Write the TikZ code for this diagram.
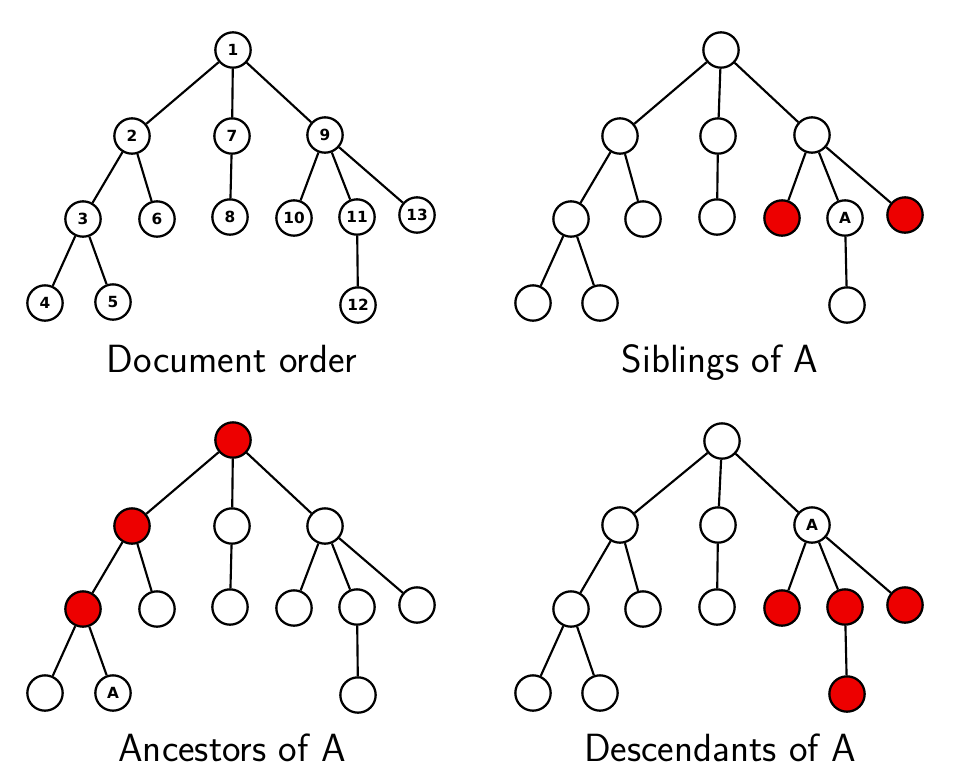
\documentclass[tikz,border=0pt]{standalone}
\usepackage{fontspec}
\newfontfamily\nodefont{DejaVu Sans}
\definecolor{markred}{RGB}{237,0,0}
\tikzset{
  vertex/.style={circle, draw, line width=1.7pt, fill=white, minimum size=26.5pt, inner sep=0pt,
    font=\nodefont\bfseries\fontsize{11.5}{13}\selectfont},
  marked/.style={vertex, fill=markred},
  edge/.style={line width=1.6pt},
  caption/.style={anchor=base, inner sep=0pt, font=\sffamily\fontsize{29.5}{35}\selectfont}
}

\begin{document}
\begin{tikzpicture}[x=0.75pt,y=0.75pt,yscale=-1,xscale=1]
            \useasboundingbox (0,0) rectangle (963,782);

            % Document order
            \begin{scope}
            \node[vertex] (d1) at (233,50) {1};
            \node[vertex] (d2) at (132,136) {2};
            \node[vertex] (d7) at (232,136) {7};
            \node[vertex] (d9) at (325,135) {9};
            \node[vertex] (d3) at (83,219) {3};
            \node[vertex] (d6) at (157,219) {6};
            \node[vertex] (d8) at (230,217) {8};
            \node[vertex] (d10) at (294,218) {10};
            \node[vertex] (d11) at (357,217) {11};
            \node[vertex] (d13) at (417,215) {13};
            \node[vertex] (d4) at (45,303) {4};
            \node[vertex] (d5) at (113,302) {5};
            \node[vertex] (d12) at (358,305) {12};
            \foreach \a/\b in {1/2,1/7,1/9,2/3,2/6,3/4,3/5,7/8,9/10,9/11,9/13,11/12}
              \draw[edge] (d\a) -- (d\b);
            \node[caption] (dcap) at (232,372) {Document order};
            \end{scope}

            % Siblings of A
            \begin{scope}[shift={(488,0)}]
            \node[vertex] (s1) at (233,50) {};
            \node[vertex] (s2) at (132,136) {};
            \node[vertex] (s7) at (230,136) {};
            \node[vertex] (s9) at (324,135) {};
            \node[vertex] (s3) at (83,219) {};
            \node[vertex] (s6) at (155,219) {};
            \node[vertex] (s8) at (229,217) {};
            \node[marked] (s10) at (294,218) {};
            \node[vertex] (s11) at (357,218) {A};
            \node[marked] (s13) at (417,215) {};
            \node[vertex] (s4) at (45,303) {};
            \node[vertex] (s5) at (112,303) {};
            \node[vertex] (s12) at (359,305) {};
            \foreach \a/\b in {1/2,1/7,1/9,2/3,2/6,3/4,3/5,7/8,9/10,9/11,9/13,11/12}
              \draw[edge] (s\a) -- (s\b);
            \node[caption] (scap) at (232,372) {Siblings of A};
            \end{scope}

            % Ancestors of A
            \begin{scope}[shift={(0,391)}]
            \node[marked] (a1) at (233,49) {};
            \node[marked] (a2) at (132,135) {};
            \node[vertex] (a7) at (232,135) {};
            \node[vertex] (a9) at (325,135) {};
            \node[marked] (a3) at (83,218) {};
            \node[vertex] (a6) at (157,218) {};
            \node[vertex] (a8) at (230,216) {};
            \node[vertex] (a10) at (294,217) {};
            \node[vertex] (a11) at (357,216) {};
            \node[vertex] (a13) at (417,214) {};
            \node[vertex] (a4) at (45,302) {};
            \node[vertex] (a5) at (113,302) {A};
            \node[vertex] (a12) at (358,304) {};
            \foreach \a/\b in {1/2,1/7,1/9,2/3,2/6,3/4,3/5,7/8,9/10,9/11,9/13,11/12}
              \draw[edge] (a\a) -- (a\b);
            \node[caption] (acap) at (232,370) {Ancestors of A};
            \end{scope}

            % Descendants of A
            \begin{scope}[shift={(488,391)}]
            \node[vertex] (e1) at (234,50) {};
            \node[vertex] (e2) at (132,134) {};
            \node[vertex] (e7) at (230,134) {};
            \node[vertex] (e9) at (324,134) {A};
            \node[vertex] (e3) at (83,218) {};
            \node[vertex] (e6) at (155,218) {};
            \node[vertex] (e8) at (229,216) {};
            \node[marked] (e10) at (294,217) {};
            \node[marked] (e11) at (357,216) {};
            \node[marked] (e13) at (417,214) {};
            \node[vertex] (e4) at (45,302) {};
            \node[vertex] (e5) at (112,302) {};
            \node[marked] (e12) at (359,303) {};
            \foreach \a/\b in {1/2,1/7,1/9,2/3,2/6,3/4,3/5,7/8,9/10,9/11,9/13,11/12}
              \draw[edge] (e\a) -- (e\b);
            \node[caption] (ecap) at (232,370) {Descendants of A};
            \end{scope}
\end{tikzpicture}
\end{document}
